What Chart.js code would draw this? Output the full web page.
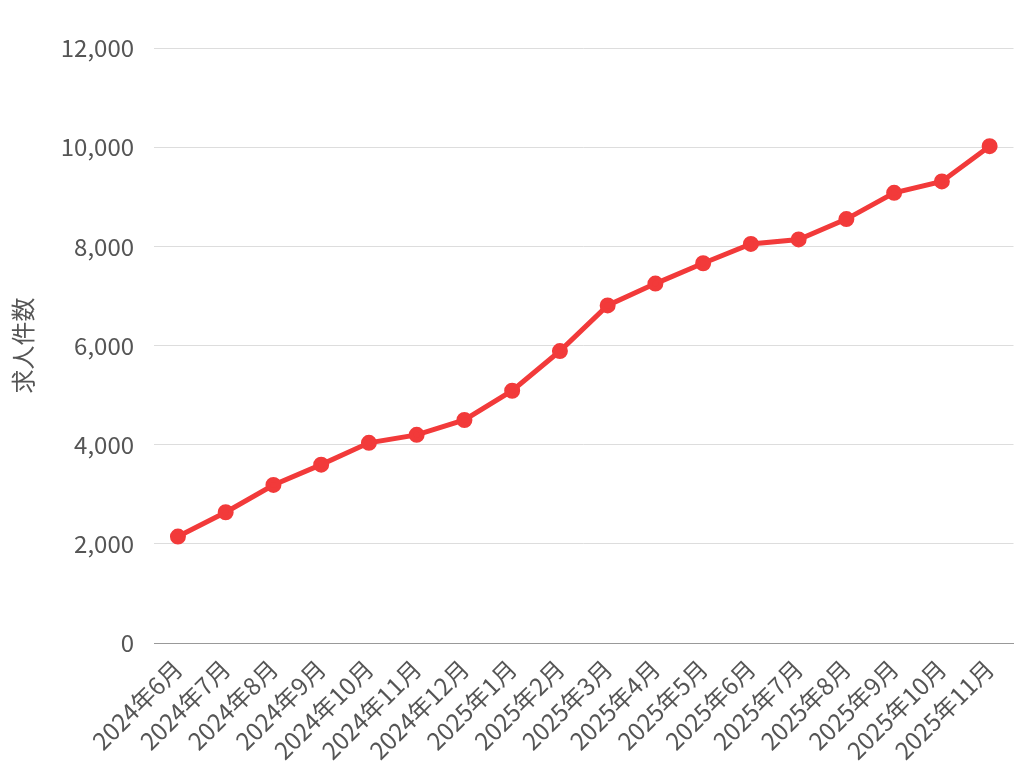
<!DOCTYPE html>
<html><head><meta charset="utf-8">
<script src="https://cdn.jsdelivr.net/npm/chart.js@4"></script>
<style>html,body{margin:0;background:#fff}#w{width:1024px;height:768px}</style>
</head><body><div id="w"><canvas id="c"></canvas></div>
<script>
const categories=["2024年6月","2024年7月","2024年8月","2024年9月","2024年10月","2024年11月","2024年12月","2025年1月","2025年2月","2025年3月","2025年4月","2025年5月","2025年6月","2025年7月","2025年8月","2025年9月","2025年10月","2025年11月"];
const jobCounts=[2150,2640,3190,3600,4040,4200,4500,5090,5890,6810,7250,7660,8050,8140,8550,9080,9310,10020];
const yAxisTitle="求人件数";
const font={family:"'Noto Sans CJK JP','Noto Sans',sans-serif",size:24};
new Chart(document.getElementById('c'),{type:'line',
data:{labels:categories,datasets:[{data:jobCounts,borderColor:'#f23a3a',backgroundColor:'#f23a3a',borderWidth:5,pointRadius:5.5,pointHoverRadius:5.5,tension:0}]},
options:{responsive:true,maintainAspectRatio:false,animation:false,
layout:{padding:{left:4,right:4,top:48,bottom:0}},
plugins:{legend:{display:false},tooltip:{enabled:false}},
scales:{
x:{offset:true,grid:{display:false},border:{color:'#999'},ticks:{color:'#555',font,maxRotation:45,minRotation:45,autoSkip:false}},
y:{min:0,max:12000,ticks:{stepSize:2000,color:'#555',font,padding:20,callback:v=>v.toLocaleString('en-US')},grid:{color:'#ddd',drawTicks:false},border:{display:false},
title:{display:true,text:yAxisTitle,color:'#555',font}}
}}});
</script></body></html>
